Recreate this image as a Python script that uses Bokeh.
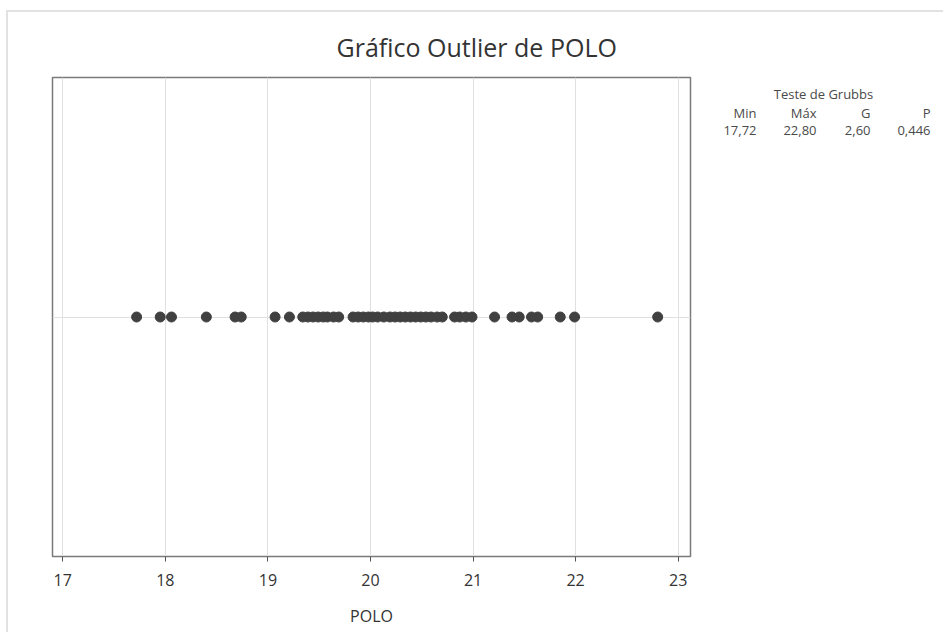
from bokeh.plotting import figure
from bokeh.layouts import row
from bokeh.models import Range1d, FixedTicker, ColumnDataSource
from bokeh.core.properties import value
from bokeh.embed import file_html
from bokeh.resources import INLINE

# Data
polo = [17.72, 17.95, 18.06, 18.40, 18.68, 18.74, 19.07, 19.21,
        19.34, 19.39, 19.44, 19.49, 19.54, 19.58, 19.64, 19.69,
        19.83, 19.88, 19.93, 19.98, 20.02, 20.07, 20.13, 20.19,
        20.24, 20.29, 20.34, 20.39, 20.44, 20.49, 20.54, 20.59,
        20.65, 20.70, 20.82, 20.87, 20.93, 20.99, 21.21, 21.38,
        21.45, 21.57, 21.63, 21.85, 21.99, 22.80]
x_ticks = [17, 18, 19, 20, 21, 22, 23]
grubbs_headers = ["Min", "Máx", "G", "P"]
grubbs_values = ["17,72", "22,80", "2,60", "0,446"]
title_text = "Gráfico Outlier de POLO"
table_title = "Teste de Grubbs"
x_label = "POLO"

FONT = "Open Sans"
H = 620
WP = 692          # main figure width (canvas starts at page x=8)
WT = 243          # table panel width (starts at page x=700)
BT, BB = 65, 76   # top / bottom borders -> frame spans page y 77..556
TX0 = 700
FTOP, FBOT = 12 + BT, 12 + H - BB

p = figure(width=WP, height=H, output_backend="svg", toolbar_location=None,
           x_range=Range1d(16.90, 23.12), y_range=Range1d(-1, 1),
           min_border_left=44, min_border_right=10,
           min_border_top=BT, min_border_bottom=BB)

p.background_fill_color = "white"
p.border_fill_color = "white"
p.outline_line_color = "#7a7a7a"
p.outline_line_width = 1.5

p.title.text = title_text
p.title.align = "left"
p.title.offset = 284
p.title.text_font = FONT
p.title.text_font_size = "25px"
p.title.text_font_style = "normal"
p.title.text_color = "#333333"
p.title.standoff = 28

p.yaxis.visible = False
p.xaxis.ticker = FixedTicker(ticks=x_ticks)
p.xaxis.minor_tick_line_color = None
p.xaxis.major_tick_in = 0
p.xaxis.major_tick_out = 5
p.xaxis.major_tick_line_color = "#555555"
p.xaxis.axis_line_color = "#7a7a7a"
p.xaxis.major_label_text_font = FONT
p.xaxis.major_label_text_font_size = "16px"
p.xaxis.major_label_text_color = "#333333"
p.xaxis.major_label_standoff = 12
p.xaxis.axis_label = x_label
p.xaxis.axis_label_text_font = FONT
p.xaxis.axis_label_text_font_size = "16px"
p.xaxis.axis_label_text_font_style = "normal"
p.xaxis.axis_label_text_color = "#333333"
p.xaxis.axis_label_standoff = 16

p.xgrid.ticker = FixedTicker(ticks=x_ticks)
p.xgrid.grid_line_color = "#e0e0e0"
p.ygrid.ticker = FixedTicker(ticks=[0])
p.ygrid.grid_line_color = "#e0e0e0"

src = ColumnDataSource(dict(x=polo, y=[0] * len(polo)))
p.scatter("x", "y", source=src, size=10, fill_color="#404040",
          line_color="#404040")

# Grubbs table panel (coordinates are page pixels, y downward);
# its frame lines up with the main frame (page y 77..556)
t = figure(width=WT, height=H, output_backend="svg", toolbar_location=None,
           x_range=Range1d(TX0, TX0 + WT), y_range=Range1d(FBOT, FTOP),
           x_axis_location=None, y_axis_location=None,
           min_border_left=0, min_border_right=0,
           min_border_top=BT, min_border_bottom=BB)
t.outline_line_color = None
t.xgrid.visible = False
t.ygrid.visible = False
t.background_fill_color = "white"
t.border_fill_color = "white"

TFS = value("13px")
t.text(x=[823], y=[93], text=[table_title], text_align="center",
       text_baseline="middle", text_font=value(FONT),
       text_font_size=TFS, text_color="#4a4a4a")
col_right = [756, 816, 870, 930]
t.text(x=col_right, y=[112] * 4, text=grubbs_headers, text_align="right",
       text_baseline="middle", text_font=value(FONT),
       text_font_size=TFS, text_color="#4a4a4a")
t.text(x=col_right, y=[130] * 4, text=grubbs_values, text_align="right",
       text_baseline="middle", text_font=value(FONT),
       text_font_size=TFS, text_color="#4a4a4a")

lay = row(p, t, spacing=0)
lay.margin = (10, 0, 0, 6)
lay.styles = {"border-top": "2px solid #e2e2e2", "border-left": "2px solid #e2e2e2"}

open("out.html", "w").write(file_html(lay, INLINE))
